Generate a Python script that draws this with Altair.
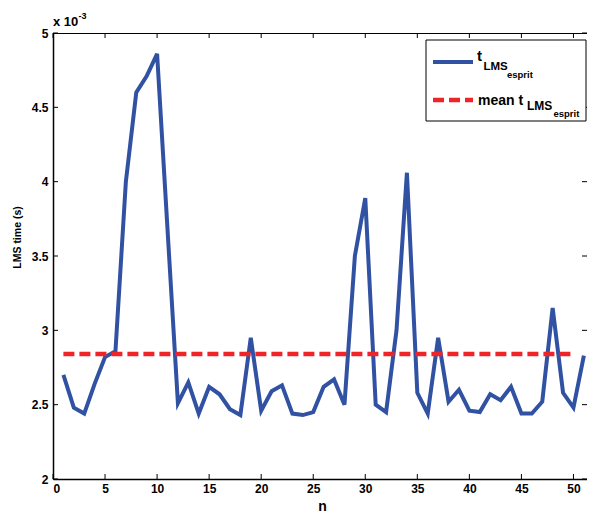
import altair as alt
import pandas as pd

# ---- data (values in units of 1e-3 s) ----
n_values = list(range(1, 52))
lms_time = [2.70, 2.48, 2.44, 2.64, 2.82, 2.86, 4.00, 4.60, 4.71, 4.86,
            3.68, 2.51, 2.65, 2.44, 2.62, 2.57, 2.47, 2.43, 2.95, 2.46,
            2.59, 2.63, 2.44, 2.43, 2.45, 2.62, 2.67, 2.50, 3.50, 3.89,
            2.50, 2.45, 3.00, 4.06, 2.58, 2.44, 2.95, 2.52, 2.60, 2.46,
            2.45, 2.57, 2.53, 2.62, 2.44, 2.44, 2.52, 3.15, 2.58, 2.48,
            2.83]
mean_value = [2.84]
mean_start = [1]
mean_end = [50]
x_ticks = [0, 5, 10, 15, 20, 25, 30, 35, 40, 45, 50]
y_ticks = [2, 2.5, 3, 3.5, 4, 4.5, 5]

# ---- style ----
W, H = 534, 446
FONT = "Liberation Sans"
BLUE = "#3152A3"
RED = "#EE2428"
LX = -7  # legend x shift

df = pd.DataFrame({"n": n_values, "t": lms_time})
mean_df = pd.DataFrame({"n": mean_start, "n2": mean_end, "t": mean_value})
xt_df = pd.DataFrame({"n": x_ticks})
yt_df = pd.DataFrame({"t": y_ticks})

xscale = alt.Scale(domain=[0, 51.3], nice=False, zero=False)
yscale = alt.Scale(domain=[2, 5], nice=False, zero=False)

line = alt.Chart(df).mark_line(color=BLUE, strokeWidth=4, strokeJoin="miter").encode(
    x=alt.X("n:Q", scale=xscale, title="n",
            axis=alt.Axis(values=x_ticks, title="n", labelPadding=4, format="~g",
                          titleFontSize=14, titleBaseline="alphabetic", titleY=31, titleX=269)),
    y=alt.Y("t:Q", scale=yscale, title="LMS time (s)",
            axis=alt.Axis(values=y_ticks, title="LMS time (s)", labelPadding=5, format="~g",
                          titleFontSize=10.5, titleAngle=270, titleX=-31, titleY=204)),
)

mean_rule = alt.Chart(mean_df).mark_rule(color=RED, strokeWidth=4.5, strokeDash=[11, 5]).encode(
    x=alt.X("n:Q", title="n"), x2="n2:Q", y=alt.Y("t:Q", title="LMS time (s)")
)

tick_style = dict(color="black", strokeWidth=1)
bottom_ticks = alt.Chart(xt_df).mark_rule(**tick_style).encode(
    x=alt.X("n:Q", title="n"), y=alt.value(H), y2=alt.value(H - 5))
top_ticks = alt.Chart(xt_df).mark_rule(**tick_style).encode(
    x=alt.X("n:Q", title="n"), y=alt.value(0), y2=alt.value(5))
left_ticks = alt.Chart(yt_df).mark_rule(**tick_style).encode(
    y=alt.Y("t:Q", title="LMS time (s)"), x=alt.value(0), x2=alt.value(5))
right_ticks = alt.Chart(yt_df).mark_rule(**tick_style).encode(
    y=alt.Y("t:Q", title="LMS time (s)"), x=alt.value(W - 5), x2=alt.value(W))


def txt(s, x, y, size):
    return alt.Chart(alt.Data(values=[{}])).mark_text(
        text=s, font=FONT, fontWeight="bold", fontSize=size, align="left",
        baseline="alphabetic", color="black").encode(x=alt.value(x), y=alt.value(y))


legend_box = alt.Chart(alt.Data(values=[{}])).mark_rect(
    fill="white", stroke="black", strokeWidth=1).encode(
    x=alt.value(380 + LX), x2=alt.value(540 + LX), y=alt.value(7), y2=alt.value(88))
leg_blue = alt.Chart(alt.Data(values=[{}])).mark_rule(color=BLUE, strokeWidth=4).encode(
    x=alt.value(387 + LX), x2=alt.value(427 + LX), y=alt.value(29))
leg_red = alt.Chart(alt.Data(values=[{}])).mark_rule(
    color=RED, strokeWidth=4.5, strokeDash=[11, 5]).encode(
    x=alt.value(387 + LX), x2=alt.value(427 + LX), y=alt.value(67))

legend_texts = [
    txt("t", 431 + LX, 27.5, 15),
    txt("LMS", 437.5 + LX, 36.5, 11.5),
    txt("esprit", 461 + LX, 45, 9.5),
    txt("mean t", 432 + LX, 71.5, 14),
    txt("LMS", 481 + LX, 77, 12),
    txt("esprit", 507.5 + LX, 84, 9.5),
]

exp_texts = [
    txt("x 10", 0, -7, 13),
    txt("-3", 25.5, -14.5, 9),
]

chart = alt.layer(
    line, mean_rule, bottom_ticks, top_ticks, left_ticks, right_ticks,
    legend_box, leg_blue, leg_red, *legend_texts, *exp_texts
).properties(
    width=W, height=H,
    autosize=alt.AutoSizeParams(type="none"),
    padding={"left": 45, "top": 25, "right": 0, "bottom": 34},
).configure_view(
    stroke="black", strokeWidth=1
).configure_axis(
    grid=False, domainColor="black", domainWidth=1.5, tickSize=0,
    labelFont=FONT, labelFontSize=12, labelFontWeight="bold", labelColor="black",
    titleFont=FONT, titleFontWeight="bold", titleColor="black",
)

chart.save("out.html", embed_options={"renderer": "svg", "actions": False})
